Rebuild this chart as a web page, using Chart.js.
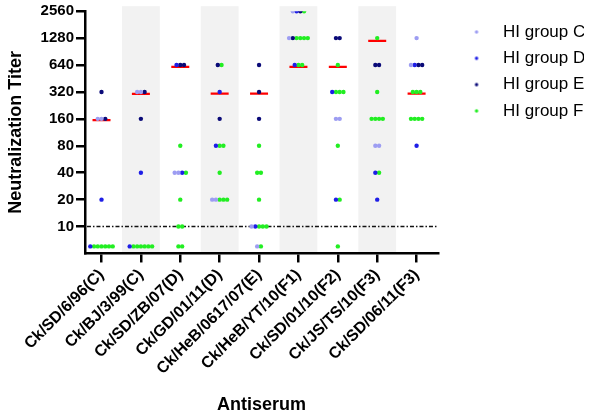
<!DOCTYPE html>
<html>
<head>
<meta charset="utf-8">
<script src="https://cdn.jsdelivr.net/npm/chart.js@4.4.1/dist/chart.umd.min.js"></script>
<style>
  html, body { margin: 0; padding: 0; background: #fff; }
</style>
</head>
<body>
<canvas id="titerChart" width="604" height="420"></canvas>
<script>
// ===== Neutralization titers per antiserum =====
const antisera = ['Ck/SD/6/96(C)', 'Ck/BJ/3/99(C)', 'Ck/SD/ZB/07(D)', 'Ck/GD/01/11(D)',
    'Ck/HeB/0617/07(E)', 'Ck/HeB/YT/10(F1)', 'Ck/SD/01/10(F2)', 'Ck/JS/TS/10(F3)', 'Ck/SD/06/11(F3)'];
const yTickValues = [10, 20, 40, 80, 160, 320, 640, 1280, 2560];
const THRESHOLD = 10;

// one list of titers per antiserum (6 = below the detection limit)
const groupC = [[160, 160], [320, 320], [40, 40], [20, 20], [10, 6], [2560, 1280], [160, 160], [80, 80], [1280, 640]];
const groupD = [[20, 6], [40, 6], [640, 40], [320, 80], [10], [2560, 640], [320, 20], [40, 20], [640, 80]];
const groupE = [[320, 160], [320, 160], [640, 640], [640, 160], [640, 320, 160], [2560, 1280], [1280, 1280], [640, 640], [640, 640]];
const groupF = [
    [6, 6, 6, 6, 6, 6],
    [6, 6, 6, 6, 6, 6],
    [80, 40, 20, 10, 10, 6, 6],
    [640, 80, 80, 40, 20, 20, 20],
    [80, 40, 40, 20, 10, 10, 10, 6],
    [2560, 1280, 1280, 1280, 1280, 640, 640],
    [640, 320, 320, 320, 80, 20, 6],
    [1280, 320, 160, 160, 160, 160, 40],
    [320, 320, 320, 160, 160, 160, 160]
];
const medianTiters = [155, 305, 610, 307, 307, 610, 610, 1195, 307];

const groups = [
    { label: 'HI group C', color: '#9D9DF2', titers: groupC },
    { label: 'HI group D', color: '#1E1EE6', titers: groupD },
    { label: 'HI group E', color: '#0A0A78', titers: groupE },
    { label: 'HI group F', color: '#22EE22', titers: groupF }
];

// spread dots that share the same antiserum + titer side by side
const SPREAD = 0.095;
const rowCount = {};
groups.forEach(g => g.titers.forEach((vals, i) => vals.forEach(v => {
    const key = i + ':' + v;
    rowCount[key] = (rowCount[key] || 0) + 1;
})));
const rowSeen = {};
function toPoints(titers) {
    const pts = [];
    titers.forEach((vals, i) => vals.forEach(v => {
        const key = i + ':' + v;
        const j = rowSeen[key] || 0;
        rowSeen[key] = j + 1;
        pts.push({ x: i + (j - (rowCount[key] - 1) / 2) * SPREAD, y: v });
    }));
    return pts;
}

// small dot sitting inside a wide legend box, so the text starts further right
function legendDot(color) {
    const c = document.createElement('canvas');
    c.width = 47;
    c.height = 6;
    const g = c.getContext('2d');
    g.fillStyle = color;
    g.beginPath();
    g.arc(29, 3, 1.7, 0, Math.PI * 2);
    g.fill();
    return c;
}

// grey column bands + dashed cut-off line
const backdrop = {
    id: 'backdrop',
    beforeDraw(chart) {
        const { ctx, chartArea: a, scales: { x } } = chart;
        ctx.save();
        ctx.fillStyle = '#F2F2F2';
        antisera.forEach((_, i) => {
            if (i % 2 === 0) return;
            const l = x.getPixelForValue(i - 0.48);
            const r = x.getPixelForValue(i + 0.48);
            ctx.fillRect(l, a.top - 5, r - l, a.bottom - a.top + 5);
        });
        ctx.restore();
    },
    beforeDatasetsDraw(chart) {
        const { ctx, chartArea: a, scales: { y } } = chart;
        const ty = y.getPixelForValue(THRESHOLD);
        ctx.save();
        ctx.strokeStyle = '#111';
        ctx.lineWidth = 1.5;
        ctx.setLineDash([4, 2, 1.5, 2]);
        ctx.beginPath();
        ctx.moveTo(a.left + 2, ty);
        ctx.lineTo(a.right, ty);
        ctx.stroke();
        ctx.restore();
    }
};

Chart.defaults.font.family = "'Liberation Sans', Arial, sans-serif";
Chart.defaults.color = '#000';

const axisGrid = { drawOnChartArea: false, drawTicks: true, tickLength: 9, color: '#000', lineWidth: 2.5 };
const axisBorder = { display: true, color: '#000', width: 2.5 };

new Chart(document.getElementById('titerChart'), {
    type: 'scatter',
    data: {
        datasets: [
            ...groups.map(g => ({
                label: g.label,
                data: toPoints(g.titers),
                backgroundColor: g.color,
                borderColor: g.color,
                borderWidth: 0,
                pointRadius: 2.2,
                pointHoverRadius: 2.2
            })),
            {
                label: 'median',
                data: medianTiters.map((v, i) => ({ x: i, y: v })),
                pointStyle: 'line',
                pointRadius: 9,
                pointHoverRadius: 9,
                borderColor: '#FF0000',
                backgroundColor: '#FF0000',
                borderWidth: 2.2
            }
        ]
    },
    options: {
        responsive: false,
        animation: false,
        devicePixelRatio: 1,
        layout: { padding: { left: 1, right: 20, top: 9, bottom: 0 } },
        plugins: {
            tooltip: { enabled: false },
            legend: {
                position: 'right',
                align: 'start',
                title: { display: true, text: '', font: { size: 1 }, padding: { top: 0, bottom: 4 } },
                labels: {
                    usePointStyle: true,
                    pointStyleWidth: 47,
                    padding: 9.3,
                    color: '#000',
                    font: { size: 17 },
                    generateLabels: (chart) => Chart.defaults.plugins.legend.labels.generateLabels(chart)
                        .filter(item => item.datasetIndex < groups.length)
                        .map(item => Object.assign(item, { pointStyle: legendDot(groups[item.datasetIndex].color) }))
                }
            }
        },
        scales: {
            x: {
                type: 'linear',
                min: -0.42,
                max: 8.55,
                afterBuildTicks: (scale) => { scale.ticks = antisera.map((_, i) => ({ value: i })); },
                ticks: {
                    callback: (v) => antisera[v],
                    autoSkip: false,
                    minRotation: 45,
                    maxRotation: 45,
                    padding: 3,
                    font: { size: 16, weight: 'bold' }
                },
                grid: axisGrid,
                border: axisBorder,
                title: {
                    display: true,
                    text: 'Antiserum',
                    font: { size: 18, weight: 'bold' },
                    padding: { top: 13, bottom: 4 }
                }
            },
            y: {
                type: 'logarithmic',
                min: 5,
                max: 2560,
                afterBuildTicks: (scale) => { scale.ticks = yTickValues.map(v => ({ value: v })); },
                ticks: {
                    callback: (v) => String(v),
                    autoSkip: false,
                    padding: 2,
                    font: { size: 15, weight: 'bold' }
                },
                grid: axisGrid,
                border: axisBorder,
                title: {
                    display: true,
                    text: 'Neutralization Titer',
                    font: { size: 18, weight: 'bold' },
                    padding: { top: 4, bottom: 12 }
                }
            }
        }
    },
    plugins: [backdrop]
});
</script>
</body>
</html>
